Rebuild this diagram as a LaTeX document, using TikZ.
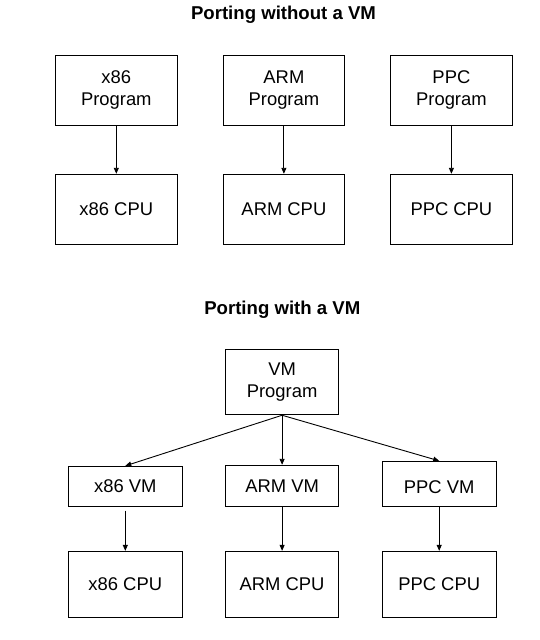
\documentclass[tikz,border=0pt]{standalone}
\usepackage{fontspec}
\setmainfont{Liberation Sans}
\usetikzlibrary{arrows.meta}
\begin{document}
\begin{tikzpicture}[x=1pt,y=-1pt,
  box/.style={draw=black,line width=1pt,rectangle,inner sep=0pt,align=center,
    font=\fontsize{18.4}{21.3}\selectfont},
  conn/.style={draw=black,line width=0.9pt,-{Triangle[length=6pt,width=5pt]}},
  ttl/.style={font=\fontsize{18.6}{21}\selectfont\bfseries}]
\useasboundingbox (0,0) rectangle (539,640);
% titles
\node[ttl] (t1) at (283.5,14.5) {Porting without a VM};
\node[ttl] (t2) at (282.3,310) {Porting with a VM};
% top section
\node[box,minimum width=122pt,minimum height=70pt] (xp) at (116.3,90) {x86\\Program};
\node[box,minimum width=121pt,minimum height=70pt] (ap) at (283.9,90) {ARM\\Program};
\node[box,minimum width=122pt,minimum height=70pt] (pp) at (451.4,90) {PPC\\Program};
\node[box,minimum width=122pt,minimum height=70pt] (xc) at (116.3,209.3) {x86 CPU};
\node[box,minimum width=121pt,minimum height=70pt] (ac) at (283.9,209.3) {ARM CPU};
\node[box,minimum width=122pt,minimum height=70pt] (pc) at (451.4,209.3) {PPC CPU};
\draw[conn] (xp) -- (xc);
\draw[conn] (ap) -- (ac);
\draw[conn] (pp) -- (pc);
% bottom section
\node[box,minimum width=113.5pt,minimum height=65.5pt] (vp) at (282.1,382) {VM\\Program};
\node[box,minimum width=114pt,minimum height=39.7pt] (xv) at (125.3,486.2) {x86 VM};
\node[box,minimum width=113.5pt,minimum height=41pt] (av) at (282.1,485.8) {ARM VM};
\node[box,minimum width=114pt,minimum height=44.7pt] (pv) at (439.2,483.7) {\raisebox{-3pt}[\height][\depth]{PPC VM}};
\node[box,minimum width=114pt,minimum height=65.7pt] (xc2) at (125.3,584.2) {x86 CPU};
\node[box,minimum width=113.5pt,minimum height=65.7pt] (ac2) at (282.1,584.2) {ARM CPU};
\node[box,minimum width=114pt,minimum height=65.7pt] (pc2) at (439.2,584.2) {PPC CPU};
\draw[conn] (vp.south) -- (xv.north);
\draw[conn] (vp.south) -- (av.north);
\draw[conn] (vp.south) -- (pv.north);
\draw[conn,shorten <=4pt] (xv) -- (xc2);
\draw[conn] (av) -- (ac2);
\draw[conn] (pv) -- (pc2);
\end{tikzpicture}
\end{document}
